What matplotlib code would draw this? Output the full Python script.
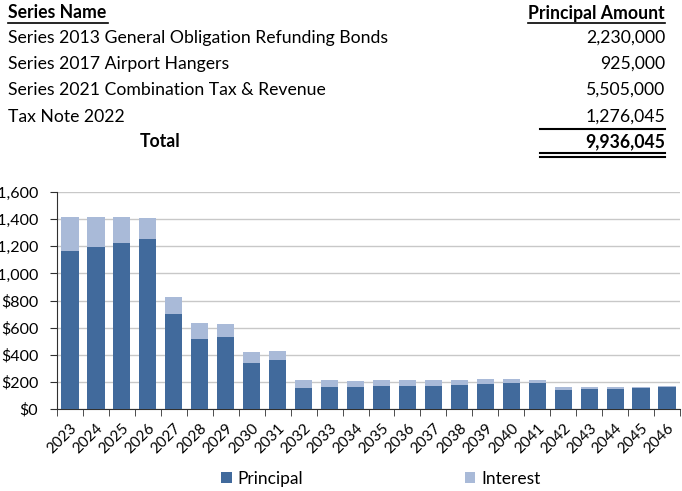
import matplotlib
matplotlib.use("Agg")
import matplotlib.pyplot as plt
from matplotlib.lines import Line2D
from matplotlib.ticker import FuncFormatter
import numpy as np

plt.rcParams['font.family'] = ['Lato', 'DejaVu Sans']

# ---- data ----
series_names = ["Series 2013 General Obligation Refunding Bonds",
                "Series 2017 Airport Hangers",
                "Series 2021 Combination Tax & Revenue",
                "Tax Note 2022"]
series_amounts = ["2,230,000", "925,000", "5,505,000", "1,276,045"]
total_amount = "9,936,045"

years = [str(y) for y in range(2023, 2047)]
principal = [1167, 1192, 1227, 1256, 698, 516, 533, 339, 361, 157, 162, 162,
             170, 172, 170, 177, 187, 189, 194, 142, 150, 150, 157, 164]
totals = [1416, 1416, 1418, 1411, 828, 632, 630, 420, 425, 214, 214, 209,
          216, 216, 211, 214, 219, 219, 214, 162, 160, 160, 160, 166]
interest = [t - p for t, p in zip(totals, principal)]

c_princ = "#416A9C"
c_int = "#A9BAD8"

W, H = 682, 491
fig = plt.figure(figsize=(W / 100, H / 100), dpi=100)

def fx(px):
    return px / W

def fy(py):
    return 1 - py / H

# ---- table ----
fs_tab = 12.7
fig.text(fx(8), fy(13), "Series Name", fontsize=fs_tab, fontweight='bold', va='center', ha='left')
fig.text(fx(665), fy(13), "Principal Amount", fontsize=fs_tab, fontweight='bold', va='center', ha='right')
fig.add_artist(Line2D([fx(8), fx(108)], [fy(22.5), fy(22.5)], color='black', lw=1.2))
fig.add_artist(Line2D([fx(528), fx(665)], [fy(22.5), fy(22.5)], color='black', lw=1.2))
row_y = [38, 64, 90, 117]
for name, amt, yy in zip(series_names, series_amounts, row_y):
    fig.text(fx(8), fy(yy), name, fontsize=fs_tab, va='center', ha='left')
    fig.text(fx(665), fy(yy), amt, fontsize=fs_tab, va='center', ha='right')
fig.add_artist(Line2D([fx(540), fx(665)], [fy(129), fy(129)], color='black', lw=1.5))
fig.text(fx(160), fy(142), "Total", fontsize=fs_tab, fontweight='bold', va='center', ha='center')
fig.text(fx(665), fy(142), total_amount, fontsize=fs_tab, fontweight='bold', va='center', ha='right')
fig.add_artist(Line2D([fx(540), fx(665)], [fy(153), fy(153)], color='black', lw=1.5))
fig.add_artist(Line2D([fx(540), fx(665)], [fy(157), fy(157)], color='black', lw=1.5))

# ---- chart ----
ax = fig.add_axes([fx(57), fy(409), fx(680) - fx(57), fy(192) - fy(409)])
x = np.arange(len(years))
b1 = ax.bar(x, principal, width=0.66, color=c_princ, label="Principal", zorder=3)
b2 = ax.bar(x, interest, bottom=principal, width=0.66, color=c_int, label="Interest", zorder=3)

ax.set_ylim(0, 1600)
ax.set_xlim(-0.5, len(years) - 0.5)
ax.set_yticks(np.arange(0, 1601, 200))
ax.yaxis.set_major_formatter(FuncFormatter(lambda v, p: f"${v:,.0f}"))
ax.grid(axis='y', color='#C8C8C8', lw=1, zorder=0)
for s in ['top', 'right']:
    ax.spines[s].set_visible(False)
ax.spines['left'].set_color('#303030')
ax.spines['bottom'].set_color('#303030')

ax.set_xticks(x)
ax.set_xticklabels(years, rotation=45, ha='right', rotation_mode='anchor', fontsize=11)
ax.tick_params(axis='x', length=0, pad=9)
ax.set_xticks(np.arange(-0.5, len(years), 1), minor=True)
ax.tick_params(axis='x', which='minor', length=5, color='#303030')
ax.tick_params(axis='y', length=5, labelsize=11.5, color='#303030', pad=8.5)

fig.legend(handles=[b1, b2], labels=["Principal", "Interest"], loc='center',
           bbox_to_anchor=(fx(381), fy(479)), ncol=2, frameon=False, fontsize=12.5,
           handlelength=0.6, handleheight=0.6, handletextpad=0.35, columnspacing=9.3)

fig.savefig("out.png", dpi=100)
